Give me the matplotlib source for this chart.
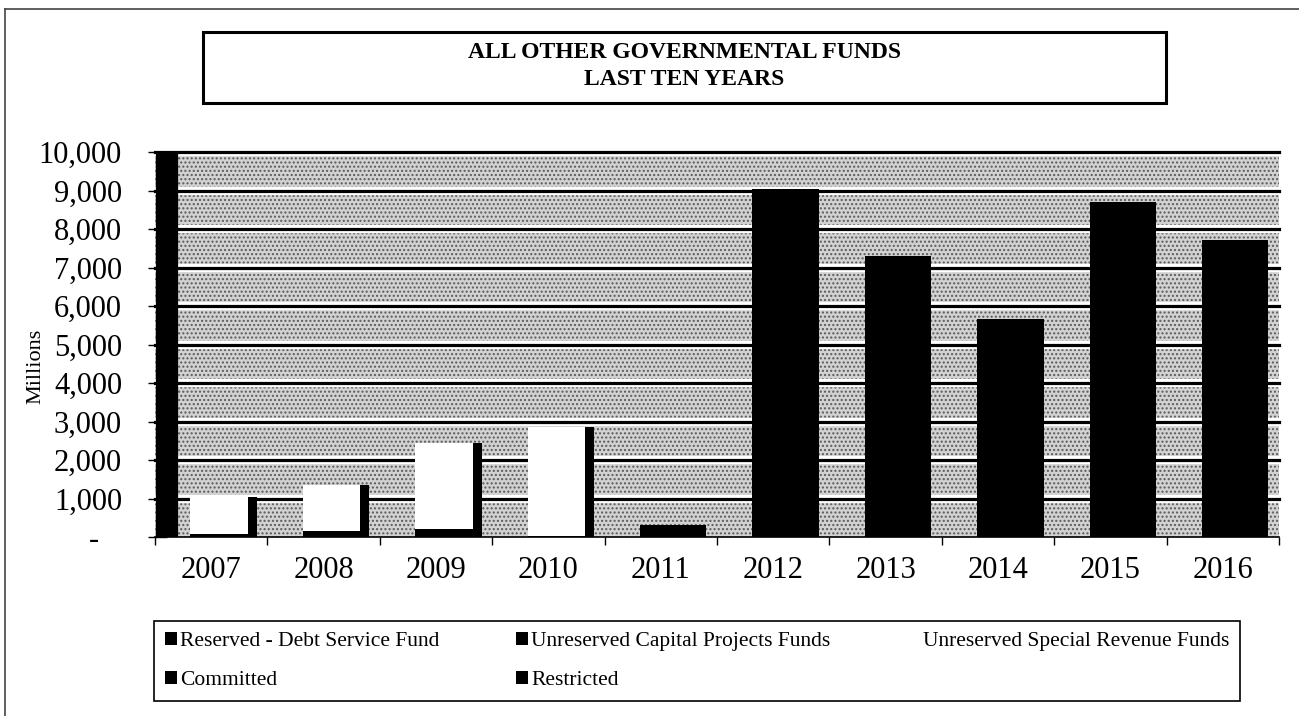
import numpy as np
import matplotlib
matplotlib.use("Agg")
import matplotlib.pyplot as plt
from matplotlib.patches import Rectangle
from matplotlib.lines import Line2D
from matplotlib.ticker import FuncFormatter

plt.rcParams["font.family"] = ["Liberation Serif", "DejaVu Serif"]
plt.rcParams["hatch.linewidth"] = 1.0

# ---- data (millions) ----
years = ["2007", "2008", "2009", "2010", "2011", "2012", "2013", "2014", "2015", "2016"]
debt_service = [80, 150, 200, 30, 0, 0, 0, 0, 0, 0]
capital_projects = [0, 0, 0, 0, 0, 0, 0, 0, 0, 0]
special_revenue = [970, 1190, 2250, 2830, 0, 0, 0, 0, 0, 0]
committed = [0, 0, 0, 0, 0, 0, 0, 0, 0, 0]
restricted = [0, 0, 0, 0, 300, 9050, 7300, 5670, 8690, 7710]

series_names = ["Reserved - Debt Service Fund", "Unreserved Capital Projects Funds",
                "Unreserved Special Revenue Funds", "Committed", "Restricted"]

W, H = 1299, 716
fig = plt.figure(figsize=(W / 100, H / 100), dpi=100)


def fx(px):
    return px / W


def fy(py):
    return 1 - py / H


AX_L, AX_R, AX_T, AX_B = 155, 1279, 152, 537
ax = fig.add_axes([fx(AX_L), fy(AX_B), fx(AX_R) - fx(AX_L), fy(AX_T) - fy(AX_B)])

# stippled grey plot area
ax.add_patch(Rectangle((0, 0), 1, 1, transform=ax.transAxes, facecolor="#d2d2d2",
                       edgecolor="#5a5a5a", hatch="....", linewidth=0, zorder=0))

# horizontal gridlines: white halo with black core
for v in range(1000, 10001, 1000):
    ax.axhline(v, color="white", lw=6.0, zorder=1, clip_on=False)
    ax.axhline(v, color="black", lw=2.3, zorder=1.1, clip_on=False)

x = np.arange(len(years))
xc = x + 0.11
w = 0.59
shadow = 0.08

debt = np.array(debt_service)
cap = np.array(capital_projects)
spec = np.array(special_revenue)
comm = np.array(committed)
rest = np.array(restricted)

# stacked columns
b_debt = ax.bar(xc, debt, w, color="black", zorder=2)
b_cap = ax.bar(xc, cap, w, bottom=debt, color="black", zorder=2)
base = debt + cap
# special revenue: white column with dark shadow on its right side
ax.bar(xc, spec, w, bottom=base, color="black", zorder=2)
b_spec = ax.bar(xc - shadow / 2, spec, w - shadow, bottom=base, color="white", zorder=2.1)
base = base + spec
b_comm = ax.bar(xc, comm, w, bottom=base, color="black", zorder=2)
base = base + comm
b_rest = ax.bar(xc, rest, w, bottom=base, color="black", zorder=2)

ax.set_xlim(-0.5, len(years) - 0.5)
ax.set_ylim(0, 10000)

# category ticks sit on the boundaries, labels on the centres
ax.set_xticks(np.arange(len(years) + 1) - 0.5)
ax.set_xticklabels([])
ax.set_xticks(x, minor=True)
ax.set_xticklabels(years, minor=True, fontsize=22)
ax.tick_params(axis="x", which="major", direction="out", length=6, width=1.0)
ax.tick_params(axis="x", which="minor", length=0, pad=14)

ax.set_yticks(np.arange(0, 10001, 1000))
ax.yaxis.set_major_formatter(FuncFormatter(lambda v, p: f"{v:,.0f}" if v else "-   "))
ax.tick_params(axis="y", direction="out", length=14, width=1.0, labelsize=22, pad=18)

for s in ["top", "right"]:
    ax.spines[s].set_visible(False)
ax.spines["bottom"].set_linewidth(1.2)
ax.spines["left"].set_linewidth(16)
ax.spines["left"].set_capstyle("butt")
ax.spines["left"].set_position(("outward", -8.3))
ax.spines["left"].set_zorder(3)

ax.text((36 - AX_L) / (AX_R - AX_L), 0.444, "Millions", transform=ax.transAxes,
        rotation=90, ha="center", va="center", fontsize=16)

# title box
fig.patches.append(Rectangle((fx(203), fy(103)), fx(1166) - fx(203), fy(32) - fy(103),
                             transform=fig.transFigure, fill=False, edgecolor="black",
                             linewidth=2.2))
fig.text(fx(684), fy(66), "ALL OTHER GOVERNMENTAL FUNDS\nLAST TEN YEARS", ha="center",
         va="center", fontsize=17, fontweight="bold", linespacing=1.35)

# outer frame (top and left edges only visible in the scan)
fig.lines.append(Line2D([fx(5), fx(1299)], [fy(9), fy(9)], transform=fig.transFigure,
                        color="#444444", lw=1.2))
fig.lines.append(Line2D([fx(5), fx(5)], [fy(9), fy(716)], transform=fig.transFigure,
                        color="#444444", lw=1.2))

# legend: rows read left to right, matplotlib fills columns
handles = [b_debt, b_comm, b_cap, b_rest, b_spec]
labels = [series_names[0], series_names[3], series_names[1], series_names[4], series_names[2]]
leg = fig.legend(handles, labels, loc="center", ncol=3, mode="expand",
                 bbox_to_anchor=(fx(154), fy(703), fx(1240) - fx(154), fy(619) - fy(703)),
                 fontsize=15.5, frameon=True, fancybox=False, framealpha=1,
                 edgecolor="black", handlelength=0.55, handleheight=0.55,
                 handletextpad=0.15, labelspacing=0.9, borderpad=0.5, borderaxespad=0,
                 columnspacing=1.0)
leg.get_frame().set_linewidth(1.2)

fig.savefig("out.png", dpi=100)
